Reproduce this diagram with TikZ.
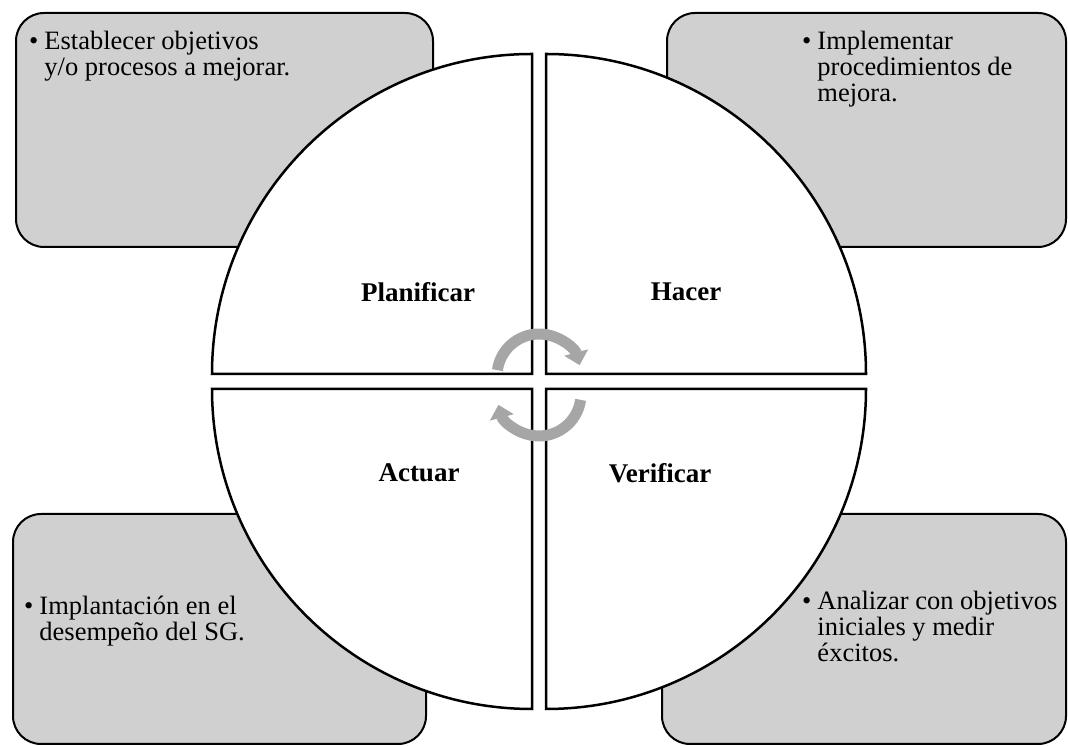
\documentclass[tikz,border=0pt]{standalone}
\usepackage{fontspec}
\setmainfont{Liberation Serif}
\usetikzlibrary{arrows.meta}
\definecolor{boxgray}{RGB}{208,208,208}
\definecolor{arrowgray}{RGB}{166,166,166}
\tikzset{
  cornerbox/.style={draw=black, line width=2pt, fill=boxgray, rounded corners=28pt},
  quarter/.style={draw=black, line width=2.5pt, fill=white, line join=miter},
  phase/.style={font=\fontsize{27}{25}\selectfont\bfseries, inner sep=0pt},
  note/.style={font=\fontsize{26.5}{25.5}\selectfont, inner sep=0pt, anchor=north west},
  cycle arrow/.style={draw=arrowgray, line width=11pt, -{Triangle[width=24pt,length=13pt]}}
}
\begin{document}
\begin{tikzpicture}[x=1pt, y=1pt]
\useasboundingbox (0,0) rectangle (1068,746);

% corner boxes
\draw[cornerbox] (16,499) rectangle (433,733);
\draw[cornerbox] (667,499) rectangle (1066,733);
\draw[cornerbox] (13,2) rectangle (426,232);
\draw[cornerbox] (662,2) rectangle (1066,232);

% four quarters of the circle
\foreach \sx/\sy/\a in {-1/1/90, 1/1/0, 1/-1/270, -1/-1/180} {
  \draw[quarter, shift={({539+7*\sx},{364.5+7.5*\sy})}] (0,0) -- (\a:320)
    arc[start angle=\a, end angle=\a+90, radius=320] -- cycle;
}

\node[phase] (plan) at (418,454) {Planificar};
\node[phase] (do) at (686,454) {Hacer};
\node[phase] (act) at (419,273) {Actuar};
\node[phase] (check) at (660,273) {Verificar};

% cycle arrows in the middle
\coordinate (upper hub) at (539,370);
\coordinate (lower hub) at (539,352);
\draw[cycle arrow] ([shift={(172:42)}]upper hub) arc[start angle=172, end angle=15, radius=42];
\draw[cycle arrow] ([shift={(-8:42)}]lower hub) arc[start angle=-8, end angle=-165, radius=42];

% texts of the boxes
\node[note] (plan note) at (29,715) {\begin{tabular}[t]{@{}l@{\hspace{6pt}}l@{}}\textbullet & Establecer objetivos\\ & y/o procesos a mejorar.\end{tabular}};
\node[note] (do note) at (802,715) {\begin{tabular}[t]{@{}l@{\hspace{6pt}}l@{}}\textbullet & Implementar\\ & procedimientos de\\ & mejora.\end{tabular}};
\node[note] (act note) at (24,150) {\begin{tabular}[t]{@{}l@{\hspace{6pt}}l@{}}\textbullet & Implantación en el\\ & desempeño del SG.\end{tabular}};
\node[note] (check note) at (802,155) {\begin{tabular}[t]{@{}l@{\hspace{6pt}}l@{}}\textbullet & Analizar con objetivos\\ & iniciales y medir\\ & éxcitos.\end{tabular}};
\end{tikzpicture}
\end{document}
